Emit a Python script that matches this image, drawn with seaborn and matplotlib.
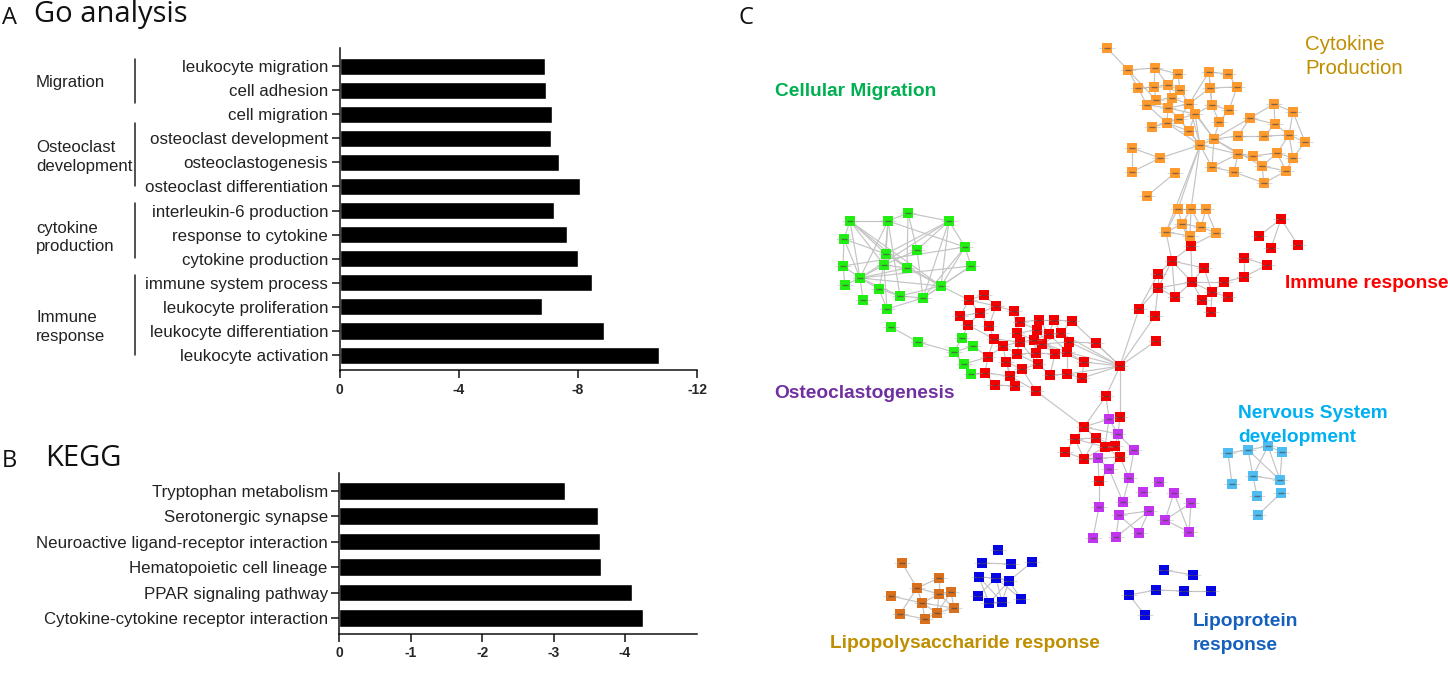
import matplotlib
matplotlib.use("Agg")
import matplotlib.pyplot as plt
import pandas as pd
import seaborn as sns

# --- panel A ---
go_terms = ["leukocyte migration", "cell adhesion", "cell migration", "osteoclast development",
            "osteoclastogenesis", "osteoclast differentiation", "interleukin-6 production",
            "response to cytokine", "cytokine production", "immune system process",
            "leukocyte proliferation", "leukocyte differentiation", "leukocyte activation"]
go_values = [-6.90, -6.94, -7.14, -7.10, -7.38, -8.06, -7.20, -7.62, -8.02, -8.49, -6.81, -8.89, -10.73]
go_ticks = [0, -4, -8, -12]

# --- panel B ---
kegg_terms = ["Tryptophan metabolism", "Serotonergic synapse", "Neuroactive ligand-receptor interaction",
              "Hematopoietic cell lineage", "PPAR signaling pathway", "Cytokine-cytokine receptor interaction"]
kegg_values = [-3.165, -3.62, -3.65, -3.66, -4.10, -4.26]
kegg_ticks = [0, -1, -2, -3, -4]

# --- panel C: network, positions in image pixels ---
orange_nodes = [(1107, 48), (1128, 70), (1155, 68), (1178, 74), (1209, 72), (1228, 74), (1138, 88), (1154, 87),
                (1168, 85), (1180, 90), (1210, 88), (1237, 87), (1156, 100), (1172, 98), (1147, 105), (1168, 108),
                (1189, 104), (1212, 105), (1229, 110), (1195, 114), (1179, 119), (1167, 123), (1219, 122), (1152, 127),
                (1189, 131), (1214, 139), (1200, 145), (1250, 118), (1274, 104), (1293, 112), (1275, 124), (1238, 136),
                (1264, 136), (1289, 135), (1305, 142), (1132, 148), (1160, 158), (1238, 154), (1253, 156), (1277, 153),
                (1293, 158), (1212, 167), (1262, 166), (1234, 172), (1286, 171), (1132, 172), (1175, 173), (1264, 183),
                (1147, 196), (1178, 209), (1191, 209), (1206, 209), (1182, 224), (1201, 227), (1166, 232), (1190, 236),
                (1216, 233)]
orange_edges = [(0, 1), (1, 2), (1, 6), (1, 12), (2, 3), (2, 7), (2, 8), (3, 8), (3, 9), (6, 7), (6, 14), (7, 8),
                (7, 12), (8, 9), (8, 13), (9, 13), (9, 16), (12, 13), (12, 14), (12, 15), (13, 15), (13, 16), (14, 15),
                (14, 21), (15, 20), (15, 21), (15, 16), (15, 19), (16, 19), (16, 20), (19, 20), (20, 21), (19, 24),
                (20, 24), (21, 24), (21, 26), (20, 26), (19, 26), (24, 26), (23, 21), (23, 20), (16, 26), (4, 5),
                (4, 10), (5, 11), (10, 11), (4, 17), (10, 17), (11, 18), (10, 16), (17, 19), (17, 18), (4, 16), (17, 22),
                (18, 22), (22, 25), (19, 25), (16, 25), (25, 26), (26, 36), (36, 35), (35, 45), (36, 45), (46, 48),
                (26, 41), (25, 41), (25, 27), (25, 31), (25, 37), (26, 37), (25, 42), (27, 28), (27, 30), (27, 31),
                (28, 29), (28, 30), (29, 33), (29, 34), (30, 32), (30, 33), (31, 32), (32, 33), (33, 34), (33, 39),
                (33, 40), (34, 40), (37, 38), (37, 43), (38, 42), (39, 40), (39, 42), (39, 44), (40, 44), (42, 47),
                (44, 47), (42, 44), (38, 39), (41, 43), (43, 47), (41, 37), (26, 49), (26, 50), (26, 54), (49, 50),
                (50, 51), (49, 52), (50, 52), (50, 53), (51, 53), (51, 56), (52, 53), (52, 54), (52, 55), (53, 55),
                (54, 55), (53, 56), (54, 49), (55, 50)]

green_nodes = [(908, 213), (850, 221), (888, 221), (949, 221), (844, 239), (965, 247), (886, 254), (917, 250),
               (843, 266), (884, 265), (907, 268), (971, 266), (860, 278), (941, 286), (845, 285), (879, 289),
               (900, 296), (923, 298), (863, 300), (887, 309), (891, 327), (918, 342), (962, 338), (973, 346),
               (954, 352), (964, 364), (971, 374)]
green_edges = [(0, 2), (0, 3), (0, 10), (0, 7), (1, 2), (1, 4), (1, 6), (1, 12), (1, 9), (1, 13), (1, 10), (2, 6),
               (2, 9), (2, 5), (2, 12), (3, 5), (3, 6), (3, 7), (3, 12), (3, 17), (3, 13), (4, 8), (4, 6), (4, 12),
               (5, 11), (5, 13), (5, 8), (5, 17), (6, 9), (6, 10), (6, 15), (6, 13), (7, 17), (7, 9), (8, 12), (8, 14),
               (9, 10), (9, 12), (9, 19), (10, 13), (10, 12), (11, 17), (11, 13), (11, 12), (12, 14), (12, 15), (12, 16),
               (12, 13), (12, 18), (13, 16), (13, 17), (15, 16), (15, 19), (16, 17), (17, 19), (2, 16), (20, 21),
               (21, 24), (24, 25), (24, 22), (24, 26), (24, 23)]

red_upper_nodes = [(1281, 219), (1259, 236), (1271, 248), (1298, 245), (1244, 258), (1267, 265), (1244, 277),
                   (1224, 282), (1191, 246), (1172, 261), (1204, 268), (1158, 274), (1192, 282), (1158, 288),
                   (1175, 297), (1212, 292), (1202, 300), (1228, 297), (1211, 312), (1139, 309), (1155, 316), (1156, 341)]
red_upper_edges = [(0, 1), (0, 2), (0, 3), (4, 5), (4, 6), (5, 6), (6, 7), (8, 9), (8, 12), (9, 10), (9, 11), (9, 12),
                   (9, 13), (9, 14), (10, 12), (11, 13), (12, 14), (12, 13), (12, 15), (12, 16), (15, 16), (15, 17),
                   (15, 18), (16, 18), (13, 14), (13, 20), (13, 19), (11, 19), (7, 15), (10, 15), (7, 12)]

red_main_nodes = [(984, 295), (969, 300), (996, 306), (980, 313), (1014, 311), (960, 316), (1020, 322), (1039, 320),
                  (1054, 320), (1072, 321), (968, 325), (989, 326), (1037, 330), (1017, 333), (1049, 334), (1061, 333),
                  (994, 339), (1020, 342), (1034, 340), (1042, 344), (1069, 342), (1096, 343), (1003, 346), (1017, 354),
                  (1036, 353), (1055, 354), (1067, 352), (988, 357), (1006, 362), (1038, 364), (1084, 362), (1120, 366),
                  (1022, 369), (985, 373), (1010, 376), (1050, 375), (1067, 374), (1082, 378), (995, 385), (1015, 386),
                  (1036, 391), (1106, 396)]
red_main_edges = [(0, 1), (0, 2), (1, 2), (1, 3), (1, 5), (2, 3), (2, 4), (3, 5), (3, 10), (3, 11), (2, 11), (4, 6),
                  (4, 13), (6, 7), (6, 12), (6, 13), (7, 8), (7, 12), (8, 9), (8, 14), (8, 15), (9, 15), (7, 14), (12, 13),
                  (12, 14), (12, 18), (13, 17), (13, 18), (14, 15), (14, 18), (14, 19), (15, 20), (15, 19), (11, 16),
                  (16, 22), (16, 17), (17, 18), (18, 19), (17, 22), (17, 23), (18, 24), (19, 24), (19, 25), (19, 20),
                  (20, 26), (20, 21), (20, 31), (21, 31), (15, 31), (26, 31), (25, 26), (24, 25), (23, 24), (22, 23),
                  (22, 27), (22, 28), (23, 28), (23, 29), (24, 29), (25, 35), (26, 36), (26, 30), (30, 31), (36, 31),
                  (37, 31), (30, 37), (29, 32), (28, 32), (27, 33), (28, 34), (33, 34), (34, 39), (38, 39), (32, 34),
                  (35, 36), (36, 37), (29, 35), (27, 16), (33, 38), (28, 39), (34, 40), (32, 40), (16, 10), (9, 31),
                  (12, 24), (18, 26), (14, 26), (19, 30), (12, 25), (13, 23), (17, 29), (31, 41)]

red_lower_nodes = [(1120, 417), (1084, 427), (1075, 439), (1096, 438), (1105, 447), (1115, 446), (1065, 452),
                   (1084, 459), (1120, 457), (1099, 481)]
red_lower_edges = [(1, 2), (1, 3), (1, 4), (2, 3), (2, 4), (2, 6), (2, 7), (3, 4), (3, 5), (3, 7), (4, 5), (4, 7),
                   (4, 8), (5, 8), (6, 7), (7, 8)]

purple_nodes = [(1109, 419), (1118, 434), (1134, 450), (1098, 458), (1109, 469), (1129, 478), (1159, 482), (1143, 492),
                (1174, 493), (1191, 503), (1123, 502), (1099, 507), (1119, 515), (1149, 511), (1165, 520), (1189, 532),
                (1139, 533), (1116, 537), (1093, 538)]
purple_edges = [(0, 1), (1, 2), (3, 4), (2, 5), (4, 10), (5, 10), (11, 18), (12, 16), (12, 13), (12, 17), (13, 16),
                (13, 17), (8, 14), (8, 15), (9, 14), (9, 15), (14, 15)]

sky_nodes = [(1228, 453), (1248, 450), (1268, 446), (1282, 452), (1253, 476), (1280, 480), (1232, 484), (1257, 496),
             (1281, 493), (1258, 515)]
sky_edges = [(0, 1), (0, 6), (1, 2), (1, 4), (1, 5), (2, 3), (2, 4), (2, 5), (3, 5), (4, 5), (4, 7), (8, 9)]

blue_left_nodes = [(998, 550), (982, 563), (1011, 564), (1032, 562), (979, 577), (996, 578), (1009, 581), (978, 596),
                   (989, 603), (1002, 602), (1021, 599)]
blue_left_edges = [(1, 2), (3, 6), (4, 5), (5, 6), (4, 8), (4, 9), (5, 9), (6, 9), (6, 10), (5, 10), (7, 8), (7, 5),
                   (6, 8), (8, 9)]

blue_right_nodes = [(1164, 570), (1193, 575), (1156, 590), (1184, 591), (1211, 591), (1129, 595), (1145, 615)]
blue_right_edges = [(0, 1), (2, 3), (3, 4), (2, 5), (5, 6)]

brown_nodes = [(902, 563), (939, 578), (917, 588), (951, 592), (939, 594), (891, 596), (922, 603), (954, 608),
               (937, 613), (900, 614), (925, 619)]
brown_edges = [(0, 2), (1, 2), (1, 4), (2, 4), (2, 6), (2, 9), (3, 4), (3, 7), (3, 8), (4, 6), (4, 8), (4, 7), (5, 6),
               (6, 8), (6, 10), (8, 10), (9, 10), (7, 8), (6, 7)]

clusters = {
    "orange": (orange_nodes, orange_edges, "#FF9A2E"),
    "green": (green_nodes, green_edges, "#22EE14"),
    "red_upper": (red_upper_nodes, red_upper_edges, "#F50000"),
    "red_main": (red_main_nodes, red_main_edges, "#F50000"),
    "red_lower": (red_lower_nodes, red_lower_edges, "#F50000"),
    "purple": (purple_nodes, purple_edges, "#C235EE"),
    "sky": (sky_nodes, sky_edges, "#4FBDF2"),
    "blue_left": (blue_left_nodes, blue_left_edges, "#0505E6"),
    "blue_right": (blue_right_nodes, blue_right_edges, "#0505E6"),
    "brown": (brown_nodes, brown_edges, "#D9701E"),
}

# edges that run between two clusters
cross_edges = [("orange", 54, "red_upper", 9), ("orange", 55, "red_upper", 8), ("orange", 52, "red_upper", 8),
               ("orange", 56, "red_upper", 8), ("red_upper", 19, "red_main", 31), ("red_upper", 20, "red_main", 31),
               ("red_upper", 21, "red_main", 31), ("green", 13, "red_main", 1), ("green", 23, "red_main", 27),
               ("green", 25, "red_main", 27), ("green", 26, "red_main", 33), ("green", 22, "red_main", 10),
               ("red_main", 41, "red_lower", 1), ("red_main", 41, "purple", 0), ("red_main", 31, "red_lower", 0),
               ("red_main", 40, "red_lower", 1), ("red_lower", 1, "purple", 0), ("red_lower", 1, "purple", 1),
               ("red_lower", 0, "purple", 1), ("red_lower", 0, "purple", 0), ("red_lower", 5, "purple", 1),
               ("red_lower", 8, "purple", 1), ("red_lower", 4, "purple", 0), ("red_lower", 7, "purple", 3),
               ("red_lower", 8, "purple", 4), ("red_lower", 8, "purple", 5), ("red_lower", 9, "purple", 4),
               ("red_lower", 9, "purple", 3), ("red_lower", 9, "purple", 11)]

# --- text ---
group_labels = [("Migration", 82), ("Osteoclast", 147), ("development", 166), ("cytokine", 229), ("production", 247),
                ("Immune", 317), ("response", 336)]
group_brackets = [(59, 103), (123, 186), (203, 258), (275, 355)]
network_labels = [("Cellular Migration", 775, 92, "#00B050", "bold"), ("Cytokine", 1305, 45, "#BF8F00", "normal"),
                  ("Production", 1305, 68, "#BF8F00", "normal"), ("Immune response", 1285, 283, "#FF0000", "bold"),
                  ("Osteoclastogenesis", 774, 393, "#7030A0", "bold"), ("Nervous System", 1238, 414, "#00B0F0", "bold"),
                  ("development", 1238, 437, "#00B0F0", "bold"), ("Lipopolysaccharide response", 830, 643, "#BF8F00", "bold"),
                  ("Lipoprotein", 1193, 621, "#1560BD", "bold"), ("response", 1193, 645, "#1560BD", "bold")]

W, H = 1448, 679
sns.set_theme(style="ticks", font="Liberation Sans")
fig = plt.figure(figsize=(W / 100, H / 100), dpi=100)


def px_axes(left, top, right, bottom):
    return fig.add_axes([left / W, 1 - bottom / H, (right - left) / W, (bottom - top) / H])


def bar_panel(ax, terms, values, ticks, xlim, ylim, height):
    df = pd.DataFrame({"term": terms, "value": values})
    sns.barplot(data=df, y="term", x="value", color="black", width=height, saturation=1, ax=ax)
    ax.set_xlim(*xlim)
    ax.set_ylim(*ylim)
    ax.set_xticks(ticks)
    ax.set_xticklabels([str(t) for t in ticks], fontsize=10, fontweight="bold")
    ax.tick_params(axis="x", length=5.8, width=1.1, pad=3, color="#111111")
    ax.tick_params(axis="y", length=5.8, width=1.1, pad=2.5, labelsize=12.2, color="#111111", labelcolor="#222222")
    ax.set_xlabel("")
    ax.set_ylabel("")
    sns.despine(ax=ax)
    for side in ["left", "bottom"]:
        ax.spines[side].set_linewidth(1.1)
        ax.spines[side].set_color("#111111")


ax_a = px_axes(339.7, 48, 697, 370.5)
bar_panel(ax_a, go_terms, go_values, go_ticks, (0, -12), (12.64, -0.75), 0.71)

ax_b = px_axes(339.4, 473, 697, 634)
bar_panel(ax_b, kegg_terms, kegg_values, kegg_ticks, (0, -5.01), (5.63, -0.70), 0.69)

# overlay in image pixels for the network and the free text
ov = fig.add_axes([0, 0, 1, 1])
ov.set_xlim(0, W)
ov.set_ylim(H, 0)
ov.axis("off")
ov.patch.set_alpha(0)

for name, (nodes, edges, color) in clusters.items():
    for a, b in edges:
        ov.plot([nodes[a][0], nodes[b][0]], [nodes[a][1], nodes[b][1]], color="#C4C4C4", lw=0.85, zorder=1)
for c1, i, c2, j in cross_edges:
    p, q = clusters[c1][0][i], clusters[c2][0][j]
    ov.plot([p[0], q[0]], [p[1], q[1]], color="#C4C4C4", lw=0.85, zorder=1)

frames = []
for name, (nodes, edges, color) in clusters.items():
    frames.append(pd.DataFrame(nodes, columns=["x", "y"]).assign(cluster=name))
network = pd.concat(frames, ignore_index=True)
palette = {name: c[2] for name, c in clusters.items()}
sns.scatterplot(data=network, x="x", y="y", hue="cluster", palette=palette, marker="s", s=50, linewidth=0,
                legend=False, ax=ov, zorder=2)
# node names are only a smudge at this size
ov.scatter(network["x"], network["y"], marker="_", s=140, linewidths=0.5, color="#9A9A9A", alpha=0.55, zorder=3)
ov.scatter(network["x"], network["y"], marker="_", s=18, linewidths=1.0, color="#222222", alpha=0.45, zorder=3)
ov.set_xlim(0, W)
ov.set_ylim(H, 0)
ov.set_xlabel("")
ov.set_ylabel("")

for label, y in group_labels:
    ov.text(36, y, label, fontsize=12.1, color="#222222", va="center", ha="left")
for y0, y1 in group_brackets:
    ov.plot([135, 135], [y0, y1], color="#222222", lw=1.1)

for label, x, y, color, weight in network_labels:
    size = 14.8 if weight == "normal" else 13.75
    ov.text(x, y, label, color=color, fontweight=weight, fontsize=size, va="center", ha="left")

# panel letters and headings
for label, x, y, size in [("A", 2, 24, 17), ("Go analysis", 34, 22, 21), ("B", 2, 467, 17), ("KEGG", 45, 466, 21),
                          ("C", 739, 24, 17)]:
    ov.text(x, y, label, fontsize=size, family="Open Sans", color="#111111", va="baseline", ha="left")

fig.savefig("out.png", dpi=100)
